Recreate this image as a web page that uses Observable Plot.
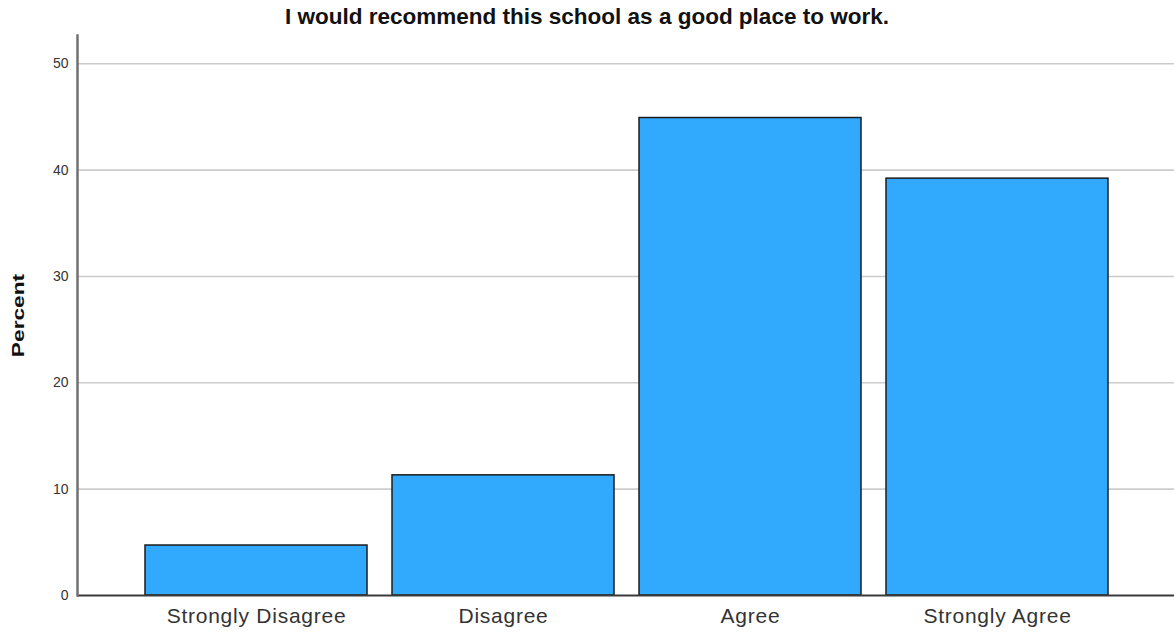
<!DOCTYPE html>
<html>
<head>
<meta charset="utf-8">
<script src="https://cdn.jsdelivr.net/npm/d3@7"></script>
<script src="https://cdn.jsdelivr.net/npm/@observablehq/plot@0.6"></script>
<style>
  html, body { margin: 0; padding: 0; background: #fff; }
  #title {
    width: 1174px; height: 34px; line-height: 34px; text-align: center;
    font-family: "Liberation Sans", Arial, sans-serif; font-weight: bold;
    font-size: 22.5px; color: #111;
  }
  #chart svg { display: block; overflow: visible; }
</style>
</head>
<body>
<div id="title">I would recommend this school as a good place to work.</div>
<div id="chart"></div>
<script>
const categories = ["Strongly Disagree", "Disagree", "Agree", "Strongly Agree"];
const percents = [4.7, 11.3, 44.9, 39.2];
const yTicks = [0, 10, 20, 30, 40, 50];
const gridTicks = [10, 20, 30, 40, 50];
const yLabel = "Percent";

const data = categories.map((c, i) => ({category: c, percent: percents[i]}));

const chart = Plot.plot({
  width: 1174,
  height: 602,
  marginTop: 1,
  marginBottom: 41,
  marginLeft: 77,
  marginRight: 0,
  style: {fontFamily: "'Liberation Sans', Arial, sans-serif", background: "#fff", color: "#333"},
  x: {domain: categories, range: [132, 1122], paddingInner: 0.1, paddingOuter: 0.05, label: null},
  y: {domain: [0, 52.66], label: null},
  marks: [
    Plot.ruleY(gridTicks, {stroke: "#cccccc", strokeWidth: 1.6}),
    Plot.barY(data, {x: "category", y: "percent", fill: "#31a9fd", stroke: "#1c1c1c", strokeWidth: 1.5}),
    Plot.ruleY([0], {stroke: "#3a3a3a", strokeWidth: 1.8}),
    Plot.frame({anchor: "left", stroke: "#707070", strokeWidth: 2.5}),
    Plot.axisY({ticks: yTicks, tickSize: 0, tickPadding: 9, fontSize: 14, label: null}),
    Plot.axisX({tickSize: 0, tickPadding: 13, fontSize: 21, label: null}),
    Plot.text([yLabel], {frameAnchor: "left", textAnchor: "middle", lineAnchor: "middle", dx: -59, rotate: -90, fontWeight: "bold", fontSize: 16, fill: "#111"})
  ]
});
document.getElementById("chart").appendChild(chart);
// Stretch the y-axis title along its length to match the reference's wide lettering
d3.select(chart).selectAll("text").filter(function() { return this.textContent === yLabel; })
  .each(function() {
    const t = this.getAttribute("transform") || "";
    this.setAttribute("transform", t + " scale(1.42,1)");
  });
// Slight tracking on the category labels
d3.select(chart).selectAll("g[aria-label='x-axis tick label'] text")
  .style("letter-spacing", "0.75px");
</script>
</body>
</html>
